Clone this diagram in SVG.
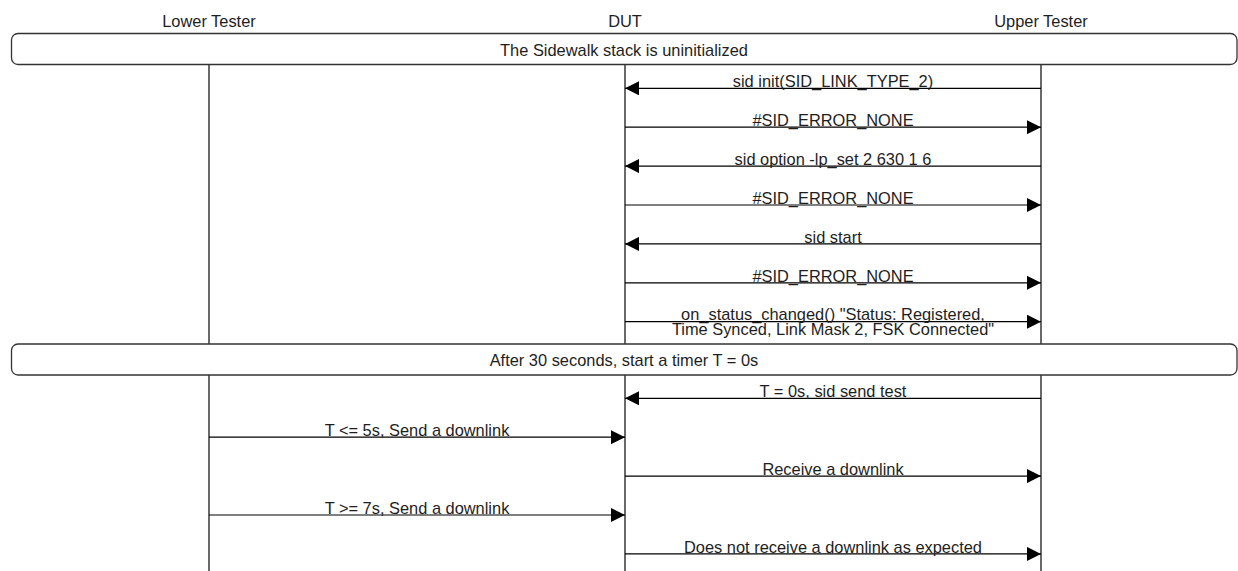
<svg xmlns="http://www.w3.org/2000/svg" width="1238" height="571" viewBox="0 0 1238 571">
  <style>
    text { font-family: "Liberation Sans", Arial, sans-serif; font-size: 16.4px; fill: #1e1e1e; text-anchor: middle; }
    .lifeline { stroke: #444; stroke-width: 1.6; fill: none; }
    .msg { stroke: #000; stroke-width: 1.2; fill: none; }
    .note { fill: #fff; stroke: #333; stroke-width: 1.3; }
  </style>
  <defs>
    <marker id="arrow" viewBox="0 0 14 14" refX="14" refY="7" markerWidth="14" markerHeight="14" markerUnits="userSpaceOnUse" orient="auto">
      <path d="M0,0 L14,7 L0,14 Z" fill="#000"/>
    </marker>
  </defs>

  <!-- participants -->
  <g id="lower-tester">
    <text x="209" y="26.5">Lower Tester</text>
    <line class="lifeline" x1="209" y1="64" x2="209" y2="571"/>
  </g>
  <g id="dut">
    <text x="625" y="26.5">DUT</text>
    <line class="lifeline" x1="625" y1="64" x2="625" y2="571"/>
  </g>
  <g id="upper-tester">
    <text x="1041" y="26.5">Upper Tester</text>
    <line class="lifeline" x1="1041" y1="64" x2="1041" y2="571"/>
  </g>

  <!-- spanning notes -->
  <g id="note-uninitialized">
    <rect class="note" x="11.5" y="33.5" width="1225.5" height="31" rx="6.5"/>
    <text x="624" y="55.5">The Sidewalk stack is uninitialized</text>
  </g>
  <g id="note-timer">
    <rect class="note" x="11.5" y="344" width="1225.5" height="31" rx="6.5"/>
    <text x="624" y="366">After 30 seconds, start a timer T = 0s</text>
  </g>

  <!-- messages -->
  <g id="connectors">
    <line class="msg" x1="1041" y1="88.3" x2="625" y2="88.3" marker-end="url(#arrow)"/>
    <text x="833" y="87">sid init(SID_LINK_TYPE_2)</text>

    <line class="msg" x1="625" y1="127.2" x2="1041" y2="127.2" marker-end="url(#arrow)"/>
    <text x="833" y="126">#SID_ERROR_NONE</text>

    <line class="msg" x1="1041" y1="166.1" x2="625" y2="166.1" marker-end="url(#arrow)"/>
    <text x="833" y="165">sid option -lp_set 2 630 1 6</text>

    <line class="msg" x1="625" y1="205" x2="1041" y2="205" marker-end="url(#arrow)"/>
    <text x="833" y="204">#SID_ERROR_NONE</text>

    <line class="msg" x1="1041" y1="243.9" x2="625" y2="243.9" marker-end="url(#arrow)"/>
    <text x="833" y="242.5">sid start</text>

    <line class="msg" x1="625" y1="282.8" x2="1041" y2="282.8" marker-end="url(#arrow)"/>
    <text x="833" y="281.5">#SID_ERROR_NONE</text>

    <line class="msg" x1="625" y1="321.7" x2="1041" y2="321.7" marker-end="url(#arrow)"/>
    <text x="833" y="319.5">on_status_changed() "Status: Registered,</text>
    <text x="833" y="334.5">Time Synced, Link Mask 2, FSK Connected"</text>

    <line class="msg" x1="1041" y1="398.3" x2="625" y2="398.3" marker-end="url(#arrow)"/>
    <text x="833" y="397">T = 0s, sid send test</text>

    <line class="msg" x1="209" y1="437.2" x2="625" y2="437.2" marker-end="url(#arrow)"/>
    <text x="417" y="436">T &lt;= 5s, Send a downlink</text>

    <line class="msg" x1="625" y1="476.1" x2="1041" y2="476.1" marker-end="url(#arrow)"/>
    <text x="833" y="475">Receive a downlink</text>

    <line class="msg" x1="209" y1="515" x2="625" y2="515" marker-end="url(#arrow)"/>
    <text x="417" y="514">T &gt;= 7s, Send a downlink</text>

    <line class="msg" x1="625" y1="553.9" x2="1041" y2="553.9" marker-end="url(#arrow)"/>
    <text x="833" y="552.5">Does not receive a downlink as expected</text>
  </g>
</svg>
